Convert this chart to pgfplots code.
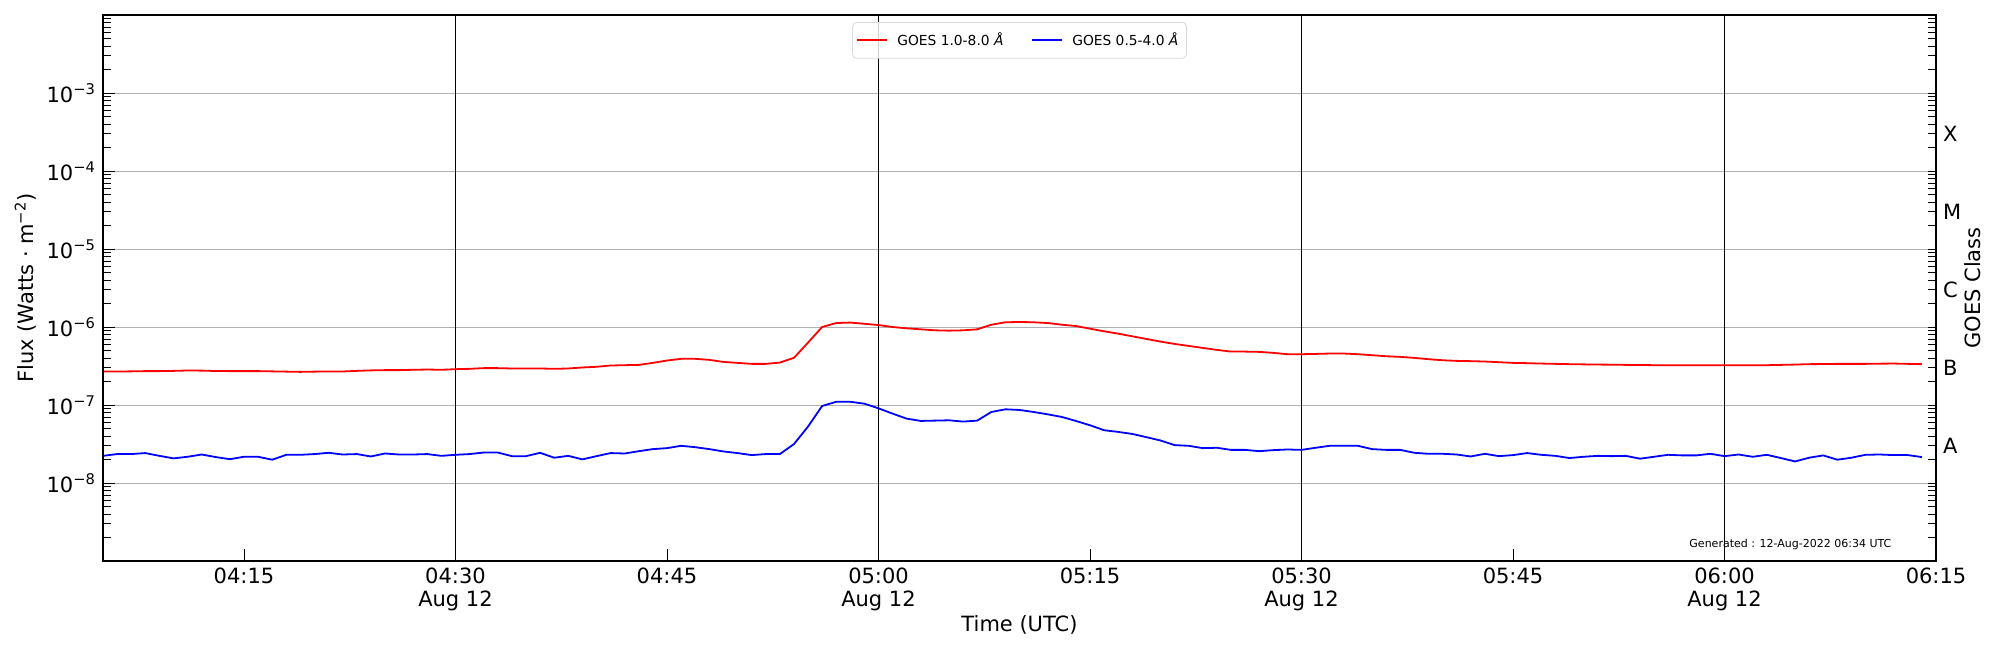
\documentclass[border=0pt]{standalone}
\usepackage{fontspec}
\setmainfont{DejaVu Sans}
\usepackage{pgfplots}
\pgfplotsset{compat=1.18}
\newcommand{\bigf}{\fontsize{10.5}{11.5}\selectfont}
\begin{document}
\begin{tikzpicture}
\useasboundingbox (-51.5pt,-44.5pt) rectangle (948.5pt,280.5pt);
\begin{axis}[name=main, at={(0pt,0pt)}, anchor=south west,
  width=916.5pt, height=273pt, scale only axis,
  xmin=5, xmax=135, ymode=log, ymin=1e-9, ymax=1e-2,
  axis line style={line width=0.6pt},
  tick align=inside, tick style={black, line width=0.5pt},
  tick label style={font=\bigf},
  major tick length=5.8pt, minor tick length=4.2pt,
  xtick pos=lower, ytick pos=left,
  xtick={15,45,75,105,135},
  xticklabels={04:15,04:45,05:15,05:45,06:15},
  extra x ticks={30,60,90,120},
  extra x tick labels={{04:30\\Aug 12},{05:00\\Aug 12},{05:30\\Aug 12},{06:00\\Aug 12}},
  extra x tick style={grid=major, major grid style={black, line width=0.75pt}},
  xticklabel style={align=center},
  ytick={1e-9,1e-8,1e-7,1e-6,1e-5,1e-4,1e-3,1e-2},
  yticklabels={{},10\textsuperscript{−8},10\textsuperscript{−7},10\textsuperscript{−6},10\textsuperscript{−5},10\textsuperscript{−4},10\textsuperscript{−3},{}},
  minor ytick={2e-9,3e-9,4e-9,5e-9,6e-9,7e-9,8e-9,9e-9,
    2e-8,3e-8,4e-8,5e-8,6e-8,7e-8,8e-8,9e-8,
    2e-7,3e-7,4e-7,5e-7,6e-7,7e-7,8e-7,9e-7,
    2e-6,3e-6,4e-6,5e-6,6e-6,7e-6,8e-6,9e-6,
    2e-5,3e-5,4e-5,5e-5,6e-5,7e-5,8e-5,9e-5,
    2e-4,3e-4,4e-4,5e-4,6e-4,7e-4,8e-4,9e-4,
    2e-3,3e-3,4e-3,5e-3,6e-3,7e-3,8e-3,9e-3},
  ymajorgrids, major grid style={color=black!31, line width=0.5pt},
  legend style={at={(0.5,1)}, anchor=north, yshift=-3.5pt, legend columns=2,
    font=\fontsize{6.9}{8}\selectfont, draw=black!15, rounded corners=2pt,
    fill=white, fill opacity=0.8, text opacity=1, inner xsep=2pt, inner ysep=3pt,
    /tikz/every even column/.append style={column sep=12pt},
    /tikz/every odd column/.append style={column sep=2.5pt}},
  legend image code/.code={\draw[#1] (0pt,0pt) -- (15pt,0pt);},
]
\addplot[red, line width=0.9pt, mark=none, line join=round] coordinates {
(5,2.69e-7)(6,2.69e-7)(7,2.70e-7)(8,2.72e-7)(9,2.72e-7)(10,2.74e-7)(11,2.77e-7)(12,2.76e-7)(13,2.73e-7)(14,2.72e-7)
(15,2.72e-7)(16,2.72e-7)(17,2.70e-7)(18,2.68e-7)(19,2.66e-7)(20,2.68e-7)(21,2.69e-7)(22,2.69e-7)(23,2.74e-7)(24,2.78e-7)
(25,2.80e-7)(26,2.80e-7)(27,2.83e-7)(28,2.85e-7)(29,2.83e-7)(30,2.88e-7)(31,2.91e-7)(32,2.97e-7)(33,2.97e-7)(34,2.94e-7)
(35,2.94e-7)(36,2.94e-7)(37,2.91e-7)(38,2.94e-7)(39,3.03e-7)(40,3.09e-7)(41,3.21e-7)(42,3.24e-7)(43,3.27e-7)(44,3.47e-7)
(45,3.72e-7)(46,3.91e-7)(47,3.91e-7)(48,3.79e-7)(49,3.57e-7)(50,3.47e-7)(51,3.37e-7)(52,3.37e-7)(53,3.50e-7)(54,4.02e-7)
(55,6.31e-7)(56,1.00e-6)(57,1.125e-6)(58,1.14e-6)(59,1.10e-6)(60,1.06e-6)(61,1.00e-6)(62,9.62e-7)(63,9.34e-7)(64,9.07e-7)
(65,8.98e-7)(66,9.07e-7)(67,9.34e-7)(68,1.07e-6)(69,1.15e-6)(70,1.16e-6)(71,1.15e-6)(72,1.125e-6)(73,1.07e-6)(74,1.03e-6)
(75,9.52e-7)(76,8.81e-7)(77,8.22e-7)(78,7.60e-7)(79,7.03e-7)(80,6.50e-7)(81,6.07e-7)(82,5.72e-7)(83,5.39e-7)(84,5.09e-7)
(85,4.84e-7)(86,4.84e-7)(87,4.80e-7)(88,4.66e-7)(89,4.48e-7)(90,4.48e-7)(91,4.52e-7)(92,4.57e-7)(93,4.57e-7)(94,4.48e-7)
(95,4.35e-7)(96,4.22e-7)(97,4.14e-7)(98,4.02e-7)(99,3.87e-7)(100,3.75e-7)(101,3.68e-7)(102,3.65e-7)(103,3.61e-7)(104,3.54e-7)
(105,3.47e-7)(106,3.44e-7)(107,3.40e-7)(108,3.37e-7)(109,3.34e-7)(110,3.32e-7)(111,3.30e-7)(112,3.29e-7)(113,3.27e-7)(114,3.26e-7)
(115,3.24e-7)(116,3.24e-7)(117,3.24e-7)(118,3.24e-7)(119,3.24e-7)(120,3.24e-7)(121,3.24e-7)(122,3.24e-7)(123,3.24e-7)(124,3.27e-7)
(125,3.30e-7)(126,3.34e-7)(127,3.35e-7)(128,3.37e-7)(129,3.37e-7)(130,3.37e-7)(131,3.39e-7)(132,3.40e-7)(133,3.37e-7)(134,3.34e-7)
};
\addlegendentry{GOES 1.0-8.0 \textit{Å}}
\addplot[blue, line width=0.9pt, mark=none, line join=round] coordinates {
(5,2.23e-8)(6,2.35e-8)(7,2.35e-8)(8,2.42e-8)(9,2.23e-8)(10,2.07e-8)(11,2.17e-8)(12,2.32e-8)(13,2.15e-8)(14,2.02e-8)
(15,2.17e-8)(16,2.17e-8)(17,1.99e-8)(18,2.30e-8)(19,2.30e-8)(20,2.35e-8)(21,2.44e-8)(22,2.32e-8)(23,2.35e-8)(24,2.19e-8)
(25,2.39e-8)(26,2.32e-8)(27,2.32e-8)(28,2.35e-8)(29,2.23e-8)(30,2.30e-8)(31,2.35e-8)(32,2.46e-8)(33,2.46e-8)(34,2.21e-8)
(35,2.21e-8)(36,2.44e-8)(37,2.11e-8)(38,2.23e-8)(39,2.01e-8)(40,2.21e-8)(41,2.42e-8)(42,2.39e-8)(43,2.56e-8)(44,2.72e-8)
(45,2.80e-8)(46,3.00e-8)(47,2.88e-8)(48,2.72e-8)(49,2.54e-8)(50,2.42e-8)(51,2.28e-8)(52,2.35e-8)(53,2.35e-8)(54,3.15e-8)
(55,5.29e-8)(56,9.71e-8)(57,1.10e-7)(58,1.10e-7)(59,1.04e-7)(60,9.07e-8)(61,7.75e-8)(62,6.69e-8)(63,6.25e-8)(64,6.31e-8)
(65,6.37e-8)(66,6.13e-8)(67,6.31e-8)(68,8.14e-8)(69,8.81e-8)(70,8.64e-8)(71,8.14e-8)(72,7.60e-8)(73,7.03e-8)(74,6.25e-8)
(75,5.50e-8)(76,4.75e-8)(77,4.52e-8)(78,4.26e-8)(79,3.87e-8)(80,3.51e-8)(81,3.06e-8)(82,3.00e-8)(83,2.80e-8)(84,2.83e-8)
(85,2.66e-8)(86,2.66e-8)(87,2.56e-8)(88,2.64e-8)(89,2.69e-8)(90,2.66e-8)(91,2.83e-8)(92,3.00e-8)(93,3.00e-8)(94,3.00e-8)
(95,2.72e-8)(96,2.66e-8)(97,2.66e-8)(98,2.44e-8)(99,2.37e-8)(100,2.37e-8)(101,2.32e-8)(102,2.19e-8)(103,2.37e-8)(104,2.21e-8)
(105,2.28e-8)(106,2.42e-8)(107,2.30e-8)(108,2.23e-8)(109,2.09e-8)(110,2.17e-8)(111,2.23e-8)(112,2.21e-8)(113,2.23e-8)(114,2.05e-8)
(115,2.17e-8)(116,2.30e-8)(117,2.26e-8)(118,2.26e-8)(119,2.37e-8)(120,2.21e-8)(121,2.32e-8)(122,2.17e-8)(123,2.30e-8)(124,2.09e-8)
(125,1.89e-8)(126,2.11e-8)(127,2.26e-8)(128,1.99e-8)(129,2.11e-8)(130,2.30e-8)(131,2.32e-8)(132,2.28e-8)(133,2.28e-8)(134,2.15e-8)
};
\addlegendentry{GOES 0.5-4.0 \textit{Å}}
\end{axis}
\begin{axis}[at={(0pt,0pt)}, anchor=south west,
  width=916.5pt, height=273pt, scale only axis,
  xmin=5, xmax=135, ymode=log, ymin=1e-9, ymax=1e-2,
  axis line style={line width=0.6pt},
  tick align=inside, tick style={black, line width=0.5pt},
  tick label style={font=\bigf},
  hide x axis, ytick pos=right, yticklabel pos=right,
  major tick length=4.2pt, minor tick length=4.2pt,
  ytick={3e-8,3e-7,3e-6,3e-5,3e-4}, yticklabels={A,B,C,M,X},
  minor ytick={1e-8,1e-7,1e-6,1e-5,1e-4,1e-3,
    2e-9,3e-9,4e-9,5e-9,6e-9,7e-9,8e-9,9e-9,
    2e-8,4e-8,5e-8,6e-8,7e-8,8e-8,9e-8,
    2e-7,4e-7,5e-7,6e-7,7e-7,8e-7,9e-7,
    2e-6,4e-6,5e-6,6e-6,7e-6,8e-6,9e-6,
    2e-5,4e-5,5e-5,6e-5,7e-5,8e-5,9e-5,
    2e-4,4e-4,5e-4,6e-4,7e-4,8e-4,9e-4,
    2e-3,3e-3,4e-3,5e-3,6e-3,7e-3,8e-3,9e-3},
]
\addplot[draw=none] coordinates {(5,1e-8)};
\end{axis}
\node[rotate=90, font=\bigf] at (-38.75pt,136.5pt) {Flux (Watts · m\textsuperscript{−2})};
\node[rotate=90, font=\bigf] at (935pt,136.5pt) {GOES Class};
\node[font=\bigf] at (458.25pt,-32pt) {Time (UTC)};
\node[anchor=east, font=\fontsize{5.5}{6.5}\selectfont] at (897.7pt,8.2pt) {Generated : 12-Aug-2022 06:34 UTC};
\end{tikzpicture}
\end{document}
